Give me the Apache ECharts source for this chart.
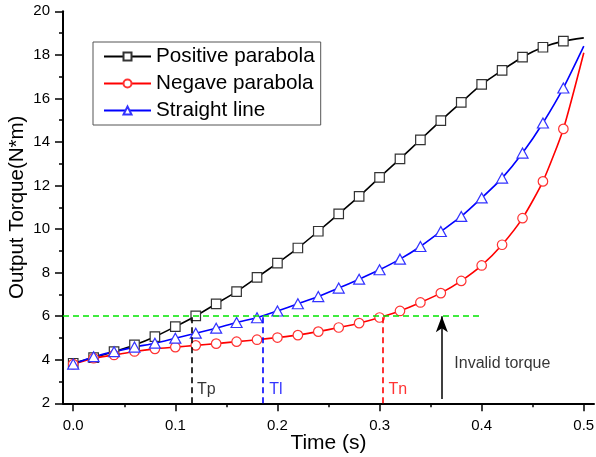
<!DOCTYPE html>
<html>
<head>
<meta charset="utf-8">
<script src="https://cdn.jsdelivr.net/npm/echarts@6/dist/echarts.min.js"></script>
<style>
html,body{margin:0;padding:0;background:#fff;}
#c{width:596px;height:457px;}
</style>
</head>
<body>
<div id="c"></div>
<script>
// ---- data ----
var times = [0,0.02,0.04,0.06,0.08,0.10,0.12,0.14,0.16,0.18,0.20,0.22,0.24,0.26,0.28,0.30,0.32,0.34,0.36,0.38,0.40,0.42,0.44,0.46,0.48,0.50];
var positiveParabola = [3.84,4.10,4.37,4.68,5.06,5.52,6.01,6.57,7.13,7.78,8.44,9.13,9.90,10.70,11.50,12.37,13.22,14.10,14.98,15.82,16.64,17.29,17.90,18.35,18.63,18.78];
var negativeParabola = [3.80,4.07,4.22,4.38,4.50,4.58,4.66,4.74,4.83,4.92,5.02,5.13,5.29,5.48,5.68,5.94,6.24,6.63,7.06,7.62,8.33,9.28,10.50,12.19,14.60,18.10];
var straightLine = [3.80,4.14,4.37,4.58,4.76,4.99,5.22,5.45,5.71,5.93,6.24,6.57,6.90,7.29,7.70,8.13,8.62,9.20,9.89,10.58,11.43,12.34,13.49,14.87,16.48,18.40];
var seriesNames = ['Positive parabola','Negave parabola','Straight line'];
var xTickLabels = [0,0.1,0.2,0.3,0.4,0.5];
var xMinorTicks = [0.05,0.15,0.25,0.35,0.45];
var torqueLimit = 6;
var limitStartX = -0.01, limitEndX = 0.4;
var markNames = ['Tp','Tl','Tn'];
var markTimes = [0.116,0.1855,0.303];
var markColors = ['#000000','#0000ff','#ff0000'];
var arrowTime = 0.361, arrowFrom = 2.2;
var annotText = ['Tp','Tl','Tn','Invalid torque'];
var annotX = [0.1213,0.1919,0.3088,0.3732];
var annotY = [2.61,2.61,2.61,3.84];
var annotColor = ['#000000','#0000ff','#ff0000','#000000'];

function build(vals){
  return times.map(function(t,i){
    var d = {value:[t, vals[i]]};
    if (i === times.length-1) d.symbol = 'none';
    return d;
  });
}

var FONT = '"Liberation Sans", Arial, sans-serif';
var chart = echarts.init(document.getElementById('c'), null, {renderer:'canvas'});

var markLineData = [];
markLineData.push([{coord:[limitStartX, torqueLimit], lineStyle:{color:'#00e600', type:[6,4], width:1.6}},{coord:[limitEndX, torqueLimit]}]);
markTimes.forEach(function(t,i){
  markLineData.push([{coord:[t,2], lineStyle:{color:markColors[i], type:[6,4], width:1.6}},{coord:[t,torqueLimit]}]);
});
markLineData.push([{coord:[arrowTime, arrowFrom], symbol:'none', lineStyle:{color:'#000', type:'solid', width:1.5}},{coord:[arrowTime, torqueLimit], symbol:'arrow'}]);

var option = {
  animation:false,
  backgroundColor:'#fff',
  grid:{left:63, right:2, top:11.3, bottom:53.7, containLabel:false, outerBoundsMode:'none'},
  xAxis:[{
    type:'value', min:-0.01, max:0.51,
    name:'Time (s)', nameLocation:'middle', nameGap:29, nameMoveOverlap:false,
    nameTextStyle:{fontFamily:FONT, fontSize:21, color:'#000'},
    axisLine:{show:true, onZero:false, lineStyle:{color:'#000', width:2}},
    axisTick:{show:true, inside:false, length:8, lineStyle:{color:'#000', width:1.5}, customValues:xTickLabels},
    axisLabel:{show:true, margin:15, fontFamily:FONT, fontSize:15, color:'#000', customValues:xTickLabels,
      formatter:function(v){return v.toFixed(1);}},
    splitLine:{show:false}
  },{
    type:'value', min:-0.01, max:0.51, position:'bottom',
    axisLine:{show:false},
    axisTick:{show:true, length:4, lineStyle:{color:'#000', width:1.5}, customValues:xMinorTicks},
    axisLabel:{show:false},
    splitLine:{show:false}
  }],
  yAxis:{
    type:'value', min:2, max:20, interval:2,
    name:'Output Torque(N*m)', nameLocation:'middle', nameGap:35, nameMoveOverlap:false,
    nameTextStyle:{fontFamily:FONT, fontSize:20.5, color:'#000'},
    axisLine:{show:true, onZero:false, lineStyle:{color:'#000', width:2}},
    axisTick:{show:true, length:8, lineStyle:{color:'#000', width:1.5}},
    minorTick:{show:true, splitNumber:2, length:4, lineStyle:{color:'#000', width:1.5}},
    axisLabel:{margin:13, fontFamily:FONT, fontSize:15, color:'#000'},
    splitLine:{show:false}
  },
  legend:{
    orient:'vertical', left:93, top:42,
    data:seriesNames,
    backgroundColor:'#fff',
    borderColor:'#555', borderWidth:1,
    padding:[4,6,4,10],
    itemGap:6, itemWidth:47, itemHeight:10,
    textStyle:{fontFamily:FONT, fontSize:20.7, color:'#000', lineHeight:20}
  },
  series:[
    {name:seriesNames[0], type:'line', data:build(positiveParabola), smooth:0.2,
      symbol:'rect', symbolSize:9.5, showAllSymbol:true,
      lineStyle:{color:'#000', width:1.6}, itemStyle:{color:'#fff', borderColor:'#333', borderWidth:1.2}, z:3},
    {name:seriesNames[1], type:'line', data:build(negativeParabola), smooth:0.2,
      symbol:'circle', symbolSize:9.5, showAllSymbol:true,
      lineStyle:{color:'#ff0000', width:1.6}, itemStyle:{color:'#fff', borderColor:'#ff3333', borderWidth:1.2}, z:3},
    {name:seriesNames[2], type:'line', data:build(straightLine), smooth:0.2,
      symbol:'triangle', symbolSize:[11,10], showAllSymbol:true,
      lineStyle:{color:'#0000ff', width:1.6}, itemStyle:{color:'#fff', borderColor:'#3333ff', borderWidth:1.2}, z:3},
    {name:'refs', type:'line', data:[], silent:true, z:2,
      markLine:{silent:true, symbol:['none','none'], symbolSize:[9,16], label:{show:false}, animation:false,
        data:markLineData}},
    {name:'annot', type:'scatter', symbolSize:0, silent:true, z:4,
      data:annotText.map(function(t,i){
        return {value:[annotX[i], annotY[i]], label:{show:true, formatter:t, color:annotColor[i],
          position:'inside', align:'left', verticalAlign:'middle',
          fontFamily:FONT, fontSize:16}};
      })}
  ]
};
chart.setOption(option);
</script>
</body>
</html>
